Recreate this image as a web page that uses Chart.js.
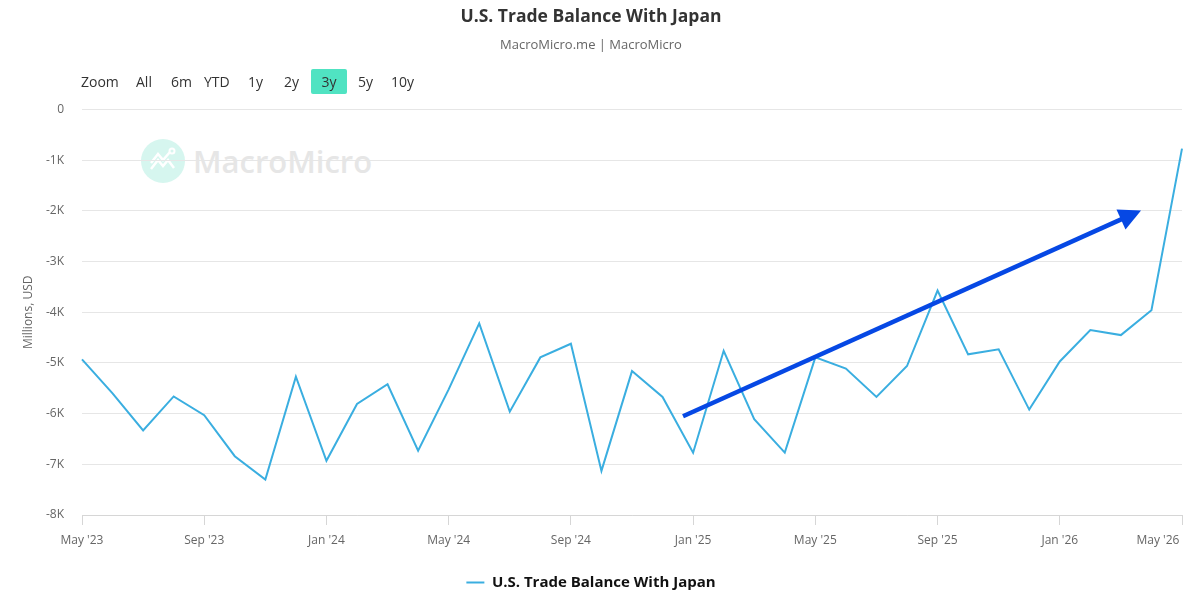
<!DOCTYPE html>
<html>
<head>
<meta charset="utf-8">
<script src="https://cdn.jsdelivr.net/npm/chart.js@4.4.1/dist/chart.umd.min.js"></script>
<style>
  body { margin: 0; background: #fff; font-family: "Open Sans", sans-serif; }
  #wrap { position: relative; width: 1200px; height: 605px; }
  #chart { position: absolute; left: 0; top: 0; z-index: 2; }
  .wm { position: absolute; left: 141px; top: 139px; z-index: 1; display: flex; align-items: center; }
  .wm .dot { width: 44px; height: 44px; border-radius: 50%; background: #d6f6ef; }
  .wm span { margin-left: 8px; font-size: 31px; font-weight: 600; color: #e6e6e6; }
  .zoom { position: absolute; top: 69px; left: 0; z-index: 3; font-size: 14px; color: #333; }
  .zoom span { position: absolute; top: 0; height: 25px; line-height: 25px; white-space: nowrap; }
  .zoom .on { background: #50e3c2; border-radius: 2px; width: 36px; text-align: center; }
</style>
</head>
<body>
<div id="wrap">
  <div class="wm">
    <div class="dot">
      <svg width="44" height="44" viewBox="0 0 44 44"><polyline points="10,30 17,21 22,27 27,21 33,29" fill="none" stroke="#fff" stroke-width="2.5"/><polyline points="10,24 17,15 22,21 29,13" fill="none" stroke="#fff" stroke-width="2.5"/><circle cx="31" cy="12" r="2.5" fill="none" stroke="#fff" stroke-width="2"/></svg>
    </div>
    <span>MacroMicro</span>
  </div>
  <div class="zoom">
    <span style="left:81px">Zoom</span>
    <span style="left:136px">All</span>
    <span style="left:171px">6m</span>
    <span style="left:204px">YTD</span>
    <span style="left:248px">1y</span>
    <span style="left:284px">2y</span>
    <span class="on" style="left:311px">3y</span>
    <span style="left:358px">5y</span>
    <span style="left:391px">10y</span>
  </div>
  <canvas id="chart" width="1200" height="605"></canvas>
</div>
<script>
// monthly, May 2023 .. May 2026
const months = ["May '23", "Jun '23", "Jul '23", "Aug '23", "Sep '23", "Oct '23", "Nov '23", "Dec '23",
  "Jan '24", "Feb '24", "Mar '24", "Apr '24", "May '24", "Jun '24", "Jul '24", "Aug '24",
  "Sep '24", "Oct '24", "Nov '24", "Dec '24", "Jan '25", "Feb '25", "Mar '25", "Apr '25",
  "May '25", "Jun '25", "Jul '25", "Aug '25", "Sep '25", "Oct '25", "Nov '25", "Dec '25",
  "Jan '26", "Feb '26", "Mar '26", "Apr '26", "May '26"];

// millions of USD
const balance = [-4930, -5600, -6330, -5660, -6030, -6840, -7300, -5270,
  -6930, -5810, -5420, -6730, -5520, -4220, -5960, -4890,
  -4620, -7130, -5160, -5670, -6770, -4760, -6110, -6770,
  -4890, -5110, -5670, -5060, -3570, -4830, -4730, -5920,
  -4970, -4350, -4450, -3960, -770];

const yTicks = [0, -1000, -2000, -3000, -4000, -5000, -6000, -7000, -8000];

// trend arrow, in (month index, value) terms
const arrowFrom = [19.67, -6050];
const arrowTo = [34.66, -1990];

const lineColor = "#3aaee0";
const arrowColor = "#0648e4";

const trendArrow = {
  id: "trendArrow",
  afterDatasetsDraw(chart) {
    const { ctx, scales: { x, y } } = chart;
    const x0 = x.getPixelForValue(arrowFrom[0]), y0 = y.getPixelForValue(arrowFrom[1]);
    const x1 = x.getPixelForValue(arrowTo[0]), y1 = y.getPixelForValue(arrowTo[1]);
    const a = Math.atan2(y1 - y0, x1 - x0);
    const head = 22, half = 11;
    const bx = x1 - head * Math.cos(a), by = y1 - head * Math.sin(a);
    ctx.save();
    ctx.strokeStyle = arrowColor;
    ctx.fillStyle = arrowColor;
    ctx.lineWidth = 4.5;
    ctx.beginPath();
    ctx.moveTo(x0, y0);
    ctx.lineTo(bx + 2 * Math.cos(a), by + 2 * Math.sin(a));
    ctx.stroke();
    ctx.beginPath();
    ctx.moveTo(x1, y1);
    ctx.lineTo(bx + half * Math.sin(a), by - half * Math.cos(a));
    ctx.lineTo(bx - half * Math.sin(a), by + half * Math.cos(a));
    ctx.closePath();
    ctx.fill();
    ctx.restore();
  }
};

new Chart(document.getElementById("chart"), {
  type: "line",
  data: {
    labels: months,
    datasets: [{
      label: "U.S. Trade Balance With Japan",
      data: balance,
      borderColor: lineColor,
      backgroundColor: lineColor,
      borderWidth: 2,
      pointRadius: 0,
      tension: 0
    }]
  },
  options: {
    responsive: false,
    animation: false,
    devicePixelRatio: 1,
    layout: { padding: { left: 0, right: 18, top: 0, bottom: 5 } },
    plugins: {
      title: {
        display: true,
        text: "U.S. Trade Balance With Japan",
        color: "#333",
        font: { family: "Open Sans", size: 17.5, weight: "bold" },
        padding: { top: 7, bottom: 7 }
      },
      subtitle: {
        display: true,
        text: "MacroMicro.me | MacroMicro",
        color: "#666",
        font: { family: "Open Sans", size: 13 },
        padding: { top: 2, bottom: 57 }
      },
      legend: {
        position: "bottom",
        labels: {
          usePointStyle: true,
          pointStyle: "line",
          pointStyleWidth: 18,
          color: "#111",
          font: { family: "Open Sans", size: 15, weight: "bold" },
          padding: 10
        }
      },
      tooltip: { enabled: false }
    },
    scales: {
      x: {
        offset: false,
        grid: {
          drawOnChartArea: false,
          drawTicks: true,
          tickLength: 10,
          color: (c) => (c.index % 4 === 0 ? "#d6d6d6" : "rgba(0,0,0,0)")
        },
        border: { color: "#d6d6d6", width: 1 },
        ticks: {
          autoSkip: false,
          maxRotation: 0,
          padding: 8,
          color: "#666",
          font: { family: "Open Sans", size: 12 },
          callback: function (v, i) {
            if (i % 4 !== 0) return "";
            // last label sits left of its tick, like the original
            return i === months.length - 1 ? months[i] + "\u2007\u2007\u2007\u2007\u2007\u2007\u2007" : months[i];
          }
        },
        afterFit: (s) => { s.height = 50; },
        afterUpdate: (s) => { s.paddingLeft = 0; s.paddingRight = 0; }
      },
      y: {
        min: -8000,
        max: 0,
        afterBuildTicks: (s) => { s.ticks = yTicks.map((v) => ({ value: v })); },
        grid: { color: "#e6e6e6", drawTicks: false },
        border: { display: false },
        ticks: {
          padding: 18,
          color: "#666",
          font: { family: "Open Sans", size: 12 },
          callback: (v) => (v === 0 ? "0" : v / 1000 + "K")
        },
        title: {
          display: true,
          text: "Millions, USD",
          color: "#666",
          font: { family: "Open Sans", size: 12 },
          padding: { top: 21, bottom: 0 }
        },
        afterFit: (s) => { s.width = 82; }
      }
    }
  },
  plugins: [trendArrow]
});
</script>
</body>
</html>
